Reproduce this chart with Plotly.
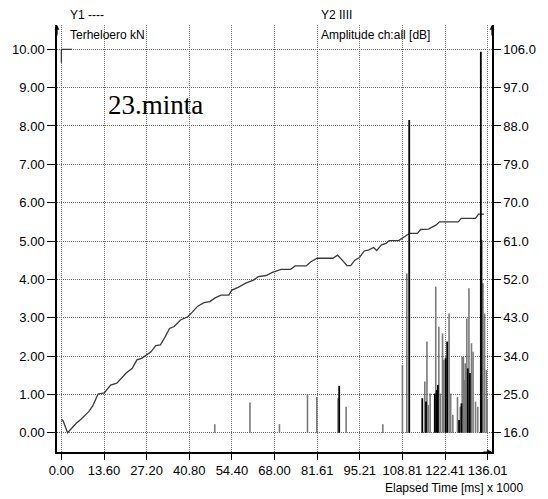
import plotly.graph_objects as go

# ---------------- data ----------------
x_ticks = [0.00, 13.60, 27.20, 40.80, 54.40, 68.00, 81.61, 95.21, 108.81, 122.41, 136.01]
x_tick_text = ["0.00", "13.60", "27.20", "40.80", "54.40", "68.00", "81.61", "95.21", "108.81", "122.41", "136.01"]
y1_ticks = [0, 1, 2, 3, 4, 5, 6, 7, 8, 9, 10]
y1_tick_text = ["0.00", "1.00", "2.00", "3.00", "4.00", "5.00", "6.00", "7.00", "8.00", "9.00", "10.00"]
y2_ticks = [16, 25, 34, 43, 52, 61, 70, 79, 88, 97, 106]
y2_tick_text = ["16.0", "25.0", "34.0", "43.0", "52.0", "61.0", "70.0", "79.0", "88.0", "97.0", "106.0"]

# load curve (Y1, kN)
load_t = [0.0, 0.6, 1.97, 3.2, 4.76, 6.25, 8.73, 10.0, 10.9, 11.7, 13.7, 15.2, 15.7, 17.7, 20.6, 22.6, 24.1,
          25.6, 27.1, 28.6, 30.1, 31.6, 33.1, 34.5, 36.0, 38.0, 40.5, 43.5, 45.5, 47.4, 48.9, 50.9, 53.4,
          54.4, 56.4, 58.8, 61.3, 62.8, 65.3, 67.3, 70.1, 73.1, 74.6, 78.1, 79.6, 81.6, 86.6, 88.1, 89.6,
          91.1, 92.3, 93.6, 95.1, 96.6, 98.1, 99.6, 100.6, 102.1, 103.6, 104.6, 107.6, 109.6, 111.1, 113.6,
          114.6, 117.1, 118.6, 119.6, 120.6, 126.6, 127.6, 132.1, 133.1, 134.8]
load_kn = [0.35, 0.30, 0.0, 0.12, 0.245, 0.35, 0.55, 0.70, 0.85, 1.01, 1.04, 1.2, 1.24, 1.29, 1.55, 1.68, 1.9,
           1.94, 2.03, 2.11, 2.27, 2.29, 2.5, 2.72, 2.77, 2.94, 3.03, 3.3, 3.39, 3.42, 3.51, 3.59, 3.59,
           3.72, 3.79, 3.9, 3.98, 4.07, 4.1, 4.18, 4.26, 4.26, 4.35, 4.35, 4.46, 4.55, 4.55, 4.63, 4.5,
           4.36, 4.36, 4.5, 4.57, 4.74, 4.77, 4.83, 4.75, 4.9, 4.94, 5.01, 5.01, 5.11, 5.2, 5.2,
           5.3, 5.31, 5.37, 5.42, 5.5, 5.5, 5.59, 5.59, 5.7, 5.7]
start_t = [0.0, 0.0, 3.4]
start_kn = [9.65, 10.0, 10.0]

# amplitude hits (Y2, dB) - gray
hit_gray_t = [48.93, 60.16, 69.57, 78.51, 81.49, 88.25, 90.84, 102.54, 108.80, 110.20, 115.94, 116.63,
              117.05, 117.64, 119.43, 120.41, 120.92, 121.60, 121.99, 123.69, 124.19, 124.88, 126.37,
              127.26, 127.86, 128.24, 128.54, 128.84, 129.35, 130.03, 130.84, 131.34, 132.12, 132.83,
              134.50, 135.01, 135.61, 135.81]
hit_gray_db = [18.0, 23.1, 18.0, 25.1, 24.4, 24.1, 22.1, 18.0, 31.9, 53.4, 28.0, 37.4,
               22.5, 25.2, 50.3, 40.9, 25.2, 39.3, 33.1, 44.0, 25.2, 20.2, 24.4,
               22.1, 33.8, 33.8, 28.4, 32.3, 42.8, 49.9, 37.0, 35.0, 23.3, 22.1,
               51.1, 44.0, 30.7, 23.7]
# amplitude hits (Y2, dB) - black
hit_black_t = [88.63, 110.97, 115.14, 116.33, 119.13, 119.73, 120.11, 122.59, 123.09, 126.87, 127.65,
               129.65, 130.33, 133.82, 134.03]
hit_black_db = [27.0, 89.4, 24.1, 23.3, 25.2, 26.0, 27.2, 33.5, 37.4, 19.0, 22.9,
                31.1, 30.0, 105.4, 61.2]
hit_base_db = 16.0

# ---------------- geometry ----------------
W, H = 548, 499
L, R, T, B = 46, 36, 25, 47
px_x0, px_x1 = 50.7, 507.4          # pixel of x=0 and x=136.01
px_y0, px_y10 = 432.7, 49.3         # pixel of y=0 and y=10
sx = (px_x1 - px_x0) / x_ticks[-1]
x_lo = -(px_x0 - L) / sx
x_hi = x_lo + (W - L - R) / sx
sy = (px_y0 - px_y10) / 10.0
y_lo = -((H - B) - px_y0) / sy
y_hi = y_lo + (H - B - T) / sy
y2_lo = y2_ticks[0] + y_lo * 9
y2_hi = y2_ticks[0] + y_hi * 9


def stems(ts, vs, base):
    xs, ys = [], []
    for t, v in zip(ts, vs):
        xs += [t, t, None]
        ys += [base, v, None]
    return xs, ys


gx, gy = stems(hit_gray_t, hit_gray_db, hit_base_db)
bx, by = stems(hit_black_t, hit_black_db, hit_base_db)

FONT = "Liberation Sans, Arial, sans-serif"

fig = go.Figure()
fig.add_trace(go.Scatter(x=gx, y=gy, mode="lines", yaxis="y2",
                         line=dict(color="#7a7a7a", width=1.6), hoverinfo="skip", showlegend=False))
fig.add_trace(go.Scatter(x=bx, y=by, mode="lines", yaxis="y2",
                         line=dict(color="#000000", width=1.8), hoverinfo="skip", showlegend=False))
fig.add_trace(go.Scatter(x=load_t, y=load_kn, mode="lines",
                         line=dict(color="#3a3a3a", width=1.3), showlegend=False))
fig.add_trace(go.Scatter(x=start_t, y=start_kn, mode="lines",
                         line=dict(color="#3a3a3a", width=1.3), showlegend=False))

grid = dict(showgrid=True, gridcolor="#6a6a6a", gridwidth=1, griddash="1px,1px")
tf = dict(family=FONT, size=13, color="#000")

fig.update_layout(
    width=W, height=H,
    margin=dict(l=L, r=R, t=T, b=B, pad=0),
    paper_bgcolor="white", plot_bgcolor="white",
    font=dict(family=FONT, size=13, color="#000"),
    xaxis=dict(range=[x_lo, x_hi], tickvals=x_ticks, ticktext=x_tick_text, tickangle=0,
               ticks="outside", ticklen=6, tickcolor="#000", showline=True, linecolor="#000",
               linewidth=1.5, zeroline=False, tickfont=tf, **grid),
    yaxis=dict(range=[y_lo, y_hi], tickvals=y1_ticks, ticktext=y1_tick_text,
               ticks="outside", ticklen=8, tickcolor="#000", showline=True, linecolor="#000",
               linewidth=1.5, zeroline=False, tickfont=tf, **grid),
    yaxis2=dict(range=[y2_lo, y2_hi], tickvals=y2_ticks, ticktext=y2_tick_text, overlaying="y",
                side="right", ticks="outside", ticklen=7, tickcolor="#000", showline=True,
                linecolor="#000", linewidth=1.5, showgrid=False, zeroline=False, tickfont=tf),
)

# header texts (pixel positions converted to paper coords)
hdr = dict(family=FONT, size=12, color="#000")


def px_ann(px, py, text, anchor="left"):
    fig.add_annotation(x=(px - L) / (W - L - R), y=((H - py) - B) / (H - B - T),
                       xref="paper", yref="paper", text=text, showarrow=False,
                       xanchor=anchor, yanchor="middle", font=hdr)


px_ann(58, 15, "Y1 ----")
px_ann(58, 35, "Terheloero kN")
px_ann(327, 15, "Y2 IIII")
px_ann(327, 35, "Amplitude ch:all [dB]")
px_ann(547, 488, "Elapsed Time [ms] x 1000", anchor="right")

fig.add_annotation(x=30, y=8.55, xref="x", yref="y", text="23.minta", showarrow=False,
                   xanchor="center", yanchor="middle",
                   font=dict(family="Liberation Serif, Times New Roman, serif", size=27, color="#000"))

# axis arrowheads
for ax_x, ax_y, dx, dy in [(0, 1, 0, 12), (1, 1, 0, 12), (1, 0, -10, 0)]:
    fig.add_annotation(x=ax_x, y=ax_y, xref="paper", yref="paper", text="", showarrow=True,
                       ax=dx, ay=dy, arrowhead=2, arrowsize=0.8, arrowwidth=1.2, arrowcolor="#000")

fig.write_html("out.html")
